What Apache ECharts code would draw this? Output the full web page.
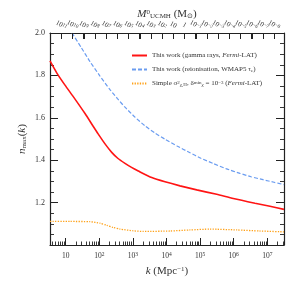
<!DOCTYPE html>
<html><head><meta charset="utf-8">
<script src="https://cdn.jsdelivr.net/npm/echarts@6/dist/echarts.min.js"></script>
<style>html,body{margin:0;padding:0;background:#fff}#c{width:299px;height:282px}</style>
</head><body><div id="c"></div>
<script>
// k in Mpc^-1, n_max(k)
const kRed   = [3.41, 5.40, 9.53, 16.8, 37.6, 66.4, 93.4, 148, 234, 361, 582, 909, 1449, 3631, 9036, 2.52e4, 7.93e4, 3.12e5, 9.73e5, 4.31e6, 1.20e7, 3.14e7];
const nRed   = [1.868, 1.812, 1.754, 1.700, 1.620, 1.559, 1.523, 1.477, 1.437, 1.408, 1.385, 1.366, 1.349, 1.318, 1.298, 1.279, 1.260, 1.239, 1.219, 1.197, 1.183, 1.168];
const kBlue  = [15.4, 28.6, 52.8, 105, 208, 348, 582, 1156, 2291, 4550, 9036, 2.06e4, 5.01e4, 1.06e5, 2.42e5, 5.9e5, 1.54e6, 3.27e6, 7.45e6, 1.58e7, 3.14e7];
const nBlue  = [2.000, 1.933, 1.865, 1.797, 1.733, 1.690, 1.650, 1.603, 1.562, 1.528, 1.499, 1.467, 1.435, 1.409, 1.385, 1.360, 1.338, 1.322, 1.308, 1.296, 1.285];
const kOrange = [3.41, 13.4, 52.8, 105, 166, 256, 413, 1028, 2000, 1.27e4, 5.0e4, 1.97e5, 1.23e6, 6.07e6, 3.14e7];
const nOrange = [1.111, 1.111, 1.110, 1.103, 1.093, 1.083, 1.075, 1.067, 1.064, 1.066, 1.071, 1.075, 1.071, 1.066, 1.062];
const kTickExp = [1, 2, 3, 4, 5, 6, 7];          // bottom axis decades of k
const massTickExp = [12, 11, 10, 9, 8, 7, 6, 5, 4, 3, 2, 1, 0, -1, -2, -3, -4, -5, -6, -7, -8]; // top axis decades of M
const kMin = 3.41, kMax = 3.14e7;
const massLogLeft = 12.0, massLogRight = -8.89;
const seriesNames = ['gamma', 'reion', 'simple'];

const lg = Math.log10;
const pts = (ks, ns) => ks.map((k, i) => [lg(k), ns[i]]);
const minorK = [];
for (let d = 0; d <= 7; d++) for (let m = 2; m <= 9; m++) {
  const v = lg(m) + d; if (v >= lg(kMin) && v <= lg(kMax)) minorK.push(v);
}
// mass decade -> log10(k) on the bottom scale (M proportional to k^-3)
const massToLogK = e => lg(kMin) + (massLogLeft - e) * (lg(kMax) - lg(kMin)) / (massLogLeft - massLogRight);
const FONT = 'Liberation Serif';
const AX = '#222';
const TXT = '#333';
const chart = echarts.init(document.getElementById('c'), null, {renderer: 'canvas'});
const baseX = {type: 'value', min: lg(kMin), max: lg(kMax), gridIndex: 0, splitLine: {show: false}};
const lineOn = () => ({show: true, onZero: false, lineStyle: {color: AX, width: 1.2}});
const massLabel = v => {
  if (Math.abs(v - Math.round(v)) > 1e-6) return '';
  const e = -Math.round(v);
  if (massTickExp.indexOf(e) < 0) return '';
  return e === 0 ? '1' : (e === 1 ? '10' : '10{s|' + (e < 0 ? '−' + (-e) : e) + '}');
};
chart.setOption({
  animation: false,
  grid: {left: 50, right: 15, top: 33, bottom: 36},
  xAxis: [
    Object.assign({}, baseX, {
      position: 'bottom',
      axisLine: lineOn(),
      axisTick: {show: true, inside: true, length: 7, customValues: kTickExp, lineStyle: {color: AX, width: 1}},
      axisLabel: {show: true, customValues: kTickExp, margin: 7, fontFamily: FONT, fontSize: 7.5, color: TXT,
        formatter: v => Math.round(v) === 1 ? '10' : '10{s|' + Math.round(v) + '}',
        rich: {s: {fontSize: 5.5, verticalAlign: 'top', lineHeight: 6, fontFamily: FONT, color: TXT}}},
      name: '{i|k} (Mpc{s|−1})', nameLocation: 'middle', nameGap: 21, nameMoveOverlap: false,
      nameTextStyle: {fontFamily: FONT, fontSize: 11, color: TXT,
        rich: {i: {fontStyle: 'italic', fontFamily: FONT, fontSize: 11, color: TXT},
               s: {fontSize: 7, verticalAlign: 'top', lineHeight: 7, fontFamily: FONT, color: TXT}}}
    }),
    Object.assign({}, baseX, {
      position: 'bottom',
      axisLine: {show: false, onZero: false},
      axisTick: {show: true, inside: true, length: 3.5, customValues: minorK, lineStyle: {color: AX, width: 0.9}},
      axisLabel: {show: false}
    }),
    {
      // top axis in -log10(M) so that it increases to the right
      type: 'value', position: 'top', min: -massLogLeft, max: -massLogRight, interval: 1, gridIndex: 0,
      splitLine: {show: false},
      axisLine: lineOn(),
      axisTick: {show: true, inside: true, length: 6, lineStyle: {color: AX, width: 1}},
      axisLabel: {show: true, rotate: 30, align: 'center', verticalAlign: 'middle', showMaxLabel: false,
        margin: 8, fontFamily: FONT, fontSize: 7, color: TXT, hideOverlap: false,
        formatter: massLabel,
        rich: {s: {fontSize: 5, verticalAlign: 'top', lineHeight: 5, fontFamily: FONT, color: TXT}}},
      name: '{i|M}{s|0}{b|UCMH} (M{b|⊙})', nameLocation: 'middle', nameGap: 13, nameMoveOverlap: false,
      nameTextStyle: {fontFamily: FONT, fontSize: 11, color: TXT,
        rich: {i: {fontStyle: 'italic', fontFamily: FONT, fontSize: 11, color: TXT},
               s: {fontSize: 7, verticalAlign: 'top', lineHeight: 7, fontFamily: FONT, color: TXT},
               b: {fontSize: 7, verticalAlign: 'bottom', lineHeight: 7, fontFamily: FONT, color: TXT}}}
    }
  ],
  yAxis: [
    {
      type: 'value', position: 'left', min: 1, max: 2, interval: 0.2, splitLine: {show: false},
      axisLine: lineOn(),
      axisTick: {show: true, inside: true, length: 8, lineStyle: {color: AX, width: 1}},
      minorTick: {show: true, splitNumber: 4, length: 4, lineStyle: {color: AX, width: 0.9}},
      axisLabel: {margin: 5, fontFamily: FONT, fontSize: 8, color: TXT,
        formatter: v => Math.abs(v - 1) < 1e-6 ? '' : v.toFixed(1)},
      name: '{i|n}{b|max}({i|k})', nameLocation: 'middle', nameGap: 22, nameMoveOverlap: false,
      nameTextStyle: {fontFamily: FONT, fontSize: 11, color: TXT,
        rich: {i: {fontStyle: 'italic', fontFamily: FONT, fontSize: 11, color: TXT},
               b: {fontSize: 7, verticalAlign: 'bottom', lineHeight: 9, fontFamily: FONT, color: TXT}}}
    },
    {
      type: 'value', position: 'right', min: 1, max: 2, interval: 0.2, splitLine: {show: false},
      axisLine: lineOn(),
      axisTick: {show: true, inside: true, length: 8, lineStyle: {color: AX, width: 1}},
      minorTick: {show: true, splitNumber: 4, length: 4, lineStyle: {color: AX, width: 0.9}},
      axisLabel: {show: false}
    }
  ],
  legend: {
    orient: 'vertical', left: 126, top: 47, itemWidth: 15, itemHeight: 8, itemGap: 7,
    itemStyle: {opacity: 0, borderWidth: 0},
    data: seriesNames,
    textStyle: {fontFamily: FONT, fontSize: 7, color: TXT,
      rich: {
        i: {fontStyle: 'italic', fontFamily: FONT, fontSize: 7, color: TXT},
        u: {fontSize: 5, verticalAlign: 'top', lineHeight: 5, fontFamily: FONT, color: TXT},
        d: {fontSize: 5, verticalAlign: 'bottom', lineHeight: 5, fontFamily: FONT, color: TXT}
      }},
    formatter: n => ({
      gamma: 'This work (gamma rays, {i|Fermi}-LAT)',
      reion: 'This work (reionisation, WMAP5 τ{d|e})',
      simple: 'Simple σ{u|2}{d|χ,H}, δ{u|min}{d|χ} = 10{u|−3} ({i|Fermi}-LAT)'
    })[n]
  },
  series: [
    {name: 'gamma', type: 'line', data: pts(kRed, nRed), showSymbol: false, symbol: 'none', smooth: 0.2,
     lineStyle: {color: '#ff1414', width: 1.6}, itemStyle: {color: '#ff1414'}, clip: true},
    {name: 'reion', type: 'line', data: pts(kBlue, nBlue), showSymbol: false, symbol: 'none', smooth: 0.2,
     lineStyle: {color: '#6a9cf0', width: 1.2, type: [4, 2]}, itemStyle: {color: '#6a9cf0'}, clip: true},
    {name: 'simple', type: 'line', data: pts(kOrange, nOrange), showSymbol: false, symbol: 'none', smooth: 0.2,
     lineStyle: {color: '#ffa21a', width: 1.3, type: [1.3, 1.3]}, itemStyle: {color: '#ffa21a'}, clip: true}
  ]
});
// top-axis inward tick marks, positioned through the chart's own scales
const yTop = chart.convertToPixel({yAxisIndex: 0}, 2.0);
chart.setOption({
  graphic: massTickExp.map(e => {
    const x = Math.round(chart.convertToPixel({xAxisIndex: 0}, massToLogK(e))) + 0.5;
    return {type: 'line', z: 100, silent: true,
      shape: {x1: x, y1: yTop, x2: x, y2: yTop + 6},
      style: {stroke: AX, lineWidth: 1}};
  })
});
</script></body></html>
